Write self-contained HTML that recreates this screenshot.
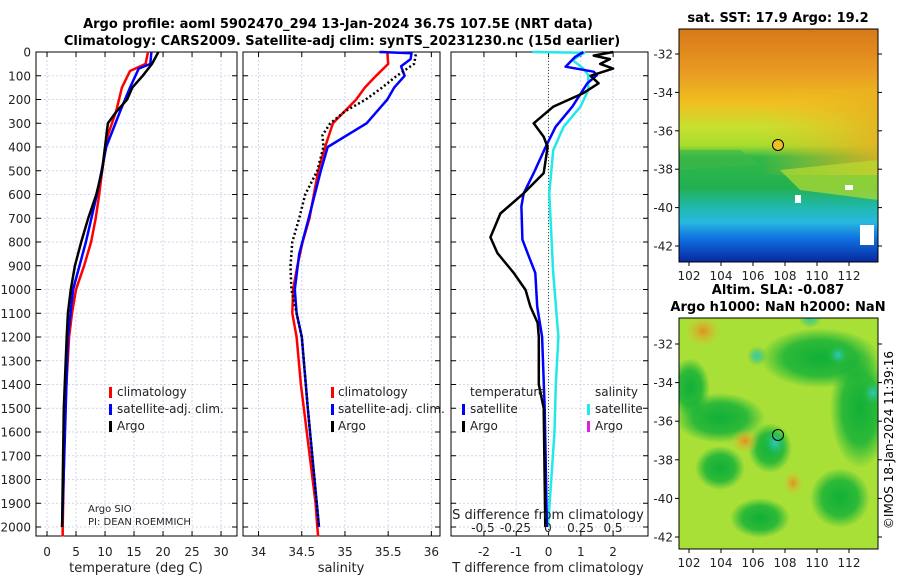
<!DOCTYPE html>
<html><head><meta charset="utf-8"><style>
body{margin:0;background:#fff;}
svg{font-family:"DejaVu Sans","Liberation Sans",sans-serif;}
</style></head><body>
<svg id="c" width="900" height="580" viewBox="0 0 900 580" xmlns="http://www.w3.org/2000/svg">
<defs>
<linearGradient id="sstg" x1="0" y1="0" x2="0" y2="1">
<stop offset="0" stop-color="#d8781a"/><stop offset="0.18" stop-color="#e89a22"/>
<stop offset="0.32" stop-color="#f0c020"/><stop offset="0.42" stop-color="#c8e030"/>
<stop offset="0.5" stop-color="#a8dc30"/><stop offset="0.55" stop-color="#30b848"/>
<stop offset="0.68" stop-color="#22b050"/><stop offset="0.76" stop-color="#20b8a8"/>
<stop offset="0.83" stop-color="#28b8e0"/><stop offset="0.9" stop-color="#1070e0"/>
<stop offset="1" stop-color="#0828a0"/></linearGradient>
<linearGradient id="sstr" x1="0" y1="0" x2="1" y2="0">
<stop offset="0" stop-color="#f0c020" stop-opacity="0"/><stop offset="1" stop-color="#e8b020" stop-opacity="0.85"/></linearGradient>
<radialGradient id="yb"><stop offset="0" stop-color="#e8e830"/><stop offset="0.6" stop-color="#c0e838" stop-opacity="0.8"/><stop offset="1" stop-color="#b0e838" stop-opacity="0"/></radialGradient>
<radialGradient id="ob"><stop offset="0" stop-color="#e09020"/><stop offset="1" stop-color="#e0c030" stop-opacity="0"/></radialGradient>
<radialGradient id="cb"><stop offset="0" stop-color="#30c8c0"/><stop offset="1" stop-color="#20c060" stop-opacity="0"/></radialGradient>
<radialGradient id="db"><stop offset="0" stop-color="#10b038"/><stop offset="0.6" stop-color="#10b038" stop-opacity="0.8"/><stop offset="1" stop-color="#10b038" stop-opacity="0"/></radialGradient>
<clipPath id="mclip"><rect x="679" y="318" width="199" height="231"/></clipPath>
</defs>
<g font-weight="bold" font-size="13" text-anchor="middle">
<text x="338" y="28">Argo profile: aoml 5902470_294 13-Jan-2024 36.7S  107.5E (NRT data)</text>
<text x="342" y="45">Climatology: CARS2009. Satellite-adj clim: synTS_20231230.nc (15d earlier)</text>
</g>
<g id="panels"></g>
<!-- maps -->
<g>
<text x="778" y="22" font-weight="bold" font-size="13" text-anchor="middle">sat. SST: 17.9 Argo: 19.2</text>
<rect x="679" y="29" width="199" height="233" fill="url(#sstg)"/>
<rect x="760" y="90" width="118" height="85" fill="url(#sstr)"/>
<path d="M780 170 L878 160 L878 200 L800 190Z" fill="#b8dc30" opacity="0.7"/>
<path d="M679 150 L740 150 L760 165 L679 170Z" fill="#40b848" opacity="0.6"/>
<rect x="860" y="225" width="14" height="20" fill="#fff"/>
<rect x="795" y="195" width="6" height="8" fill="#fff"/>
<rect x="845" y="185" width="8" height="5" fill="#fff"/>
<circle cx="778" cy="145" r="5.5" fill="#f0c020" stroke="#000" stroke-width="1"/>
<rect x="679" y="29" width="199" height="233" fill="none" stroke="#000" stroke-width="1"/>
</g>
<g>
<text x="778" y="294" font-weight="bold" font-size="13" text-anchor="middle">Altim. SLA: -0.087</text>
<text x="778" y="311" font-weight="bold" font-size="13" text-anchor="middle">Argo h1000: NaN h2000: NaN</text>
<rect x="679" y="318" width="199" height="231" fill="#a8e038"/>
<g clip-path="url(#mclip)">
<g transform="translate(0,28)">
<ellipse cx="720" cy="390" rx="45" ry="25" fill="url(#db)"/>
<ellipse cx="820" cy="330" rx="60" ry="30" fill="url(#db)"/>
<ellipse cx="860" cy="380" rx="30" ry="60" fill="url(#db)"/>
<ellipse cx="770" cy="420" rx="22" ry="25" fill="url(#db)"/>
<ellipse cx="720" cy="440" rx="25" ry="22" fill="url(#db)"/>
<ellipse cx="840" cy="470" rx="30" ry="30" fill="url(#db)"/>
<ellipse cx="760" cy="490" rx="30" ry="20" fill="url(#db)"/>
<ellipse cx="690" cy="360" rx="20" ry="30" fill="url(#db)"/>
<ellipse cx="703" cy="303" rx="18" ry="16" fill="url(#ob)"/>
<ellipse cx="745" cy="413" rx="14" ry="12" fill="url(#ob)"/>
<ellipse cx="793" cy="455" rx="10" ry="12" fill="url(#ob)"/>
<ellipse cx="775" cy="415" rx="12" ry="14" fill="url(#cb)"/>
<ellipse cx="838" cy="327" rx="10" ry="10" fill="url(#cb)"/>
<ellipse cx="873" cy="365" rx="10" ry="12" fill="url(#cb)"/>
<ellipse cx="757" cy="328" rx="10" ry="10" fill="url(#cb)"/>
<ellipse cx="810" cy="290" rx="12" ry="10" fill="url(#cb)"/>
</g></g>
<circle cx="778" cy="435" r="5.5" fill="none" stroke="#000" stroke-width="1"/>
<rect x="679" y="318" width="199" height="231" fill="none" stroke="#000" stroke-width="1"/>
</g>
<g id="mapaxes" font-size="12" fill="#222"></g>
<text transform="translate(893,440) rotate(-90)" font-size="12" text-anchor="middle">©IMOS 18-Jan-2024 11:39:16</text>
</svg>
<script>
// ---- data ----
const depthTicks=[0,100,200,300,400,500,600,700,800,900,1000,1100,1200,1300,1400,1500,1600,1700,1800,1900,2000];
const tTicks=[0,5,10,15,20,25,30];
const sTicks=[34,34.5,35,35.5,36];
const dTTicks=[-2,-1,0,1,2];
const dSTicks=[-0.5,-0.25,0,0.25,0.5];
const tArgoDepth=[0,50,100,150,200,250,300,400,500,600,700,800,900,1000,1100,1200,1500,2000];
const tArgo=[19.2,18.1,16.5,14.7,13.8,12.0,10.5,10.0,9.5,8.5,7.1,5.9,4.8,4.1,3.6,3.4,2.9,2.6];
const tClimDepth=[0,50,80,150,250,350,500,600,700,800,900,1000,1100,1200,1500,2000,2040];
const tClim=[17.4,17.0,14.3,12.9,11.9,10.5,9.5,9.0,8.4,7.6,6.4,5.0,4.3,3.8,3.1,2.7,2.7];
const tSatDepth=[0,50,70,150,250,400,600,800,1000,1200,2000];
const tSat=[18.0,17.8,15.8,14.3,12.6,10.2,8.6,6.7,4.5,3.6,2.6];
const sClimDepth=[0,50,100,150,200,300,400,500,700,800,900,1000,1100,1200,1400,1900,2000,2040];
const sClim=[35.49,35.5,35.36,35.23,35.13,34.86,34.77,34.69,34.59,34.51,34.45,34.40,34.39,34.44,34.49,34.66,34.68,34.69];
const sSatDepth=[0,5,30,60,100,150,200,300,400,500,700,850,1000,1100,1200,1500,2000];
const sSat=[35.4,35.77,35.76,35.65,35.69,35.57,35.49,35.25,34.8,34.72,34.58,34.47,34.42,34.44,34.5,34.57,34.7];
const sArgoDepth=[10,50,100,150,200,250,300,350,400,500,600,700,800,900,1000,1200,1500,2000];
const sArgo=[35.82,35.8,35.6,35.43,35.24,35.0,34.83,34.74,34.75,34.68,34.54,34.47,34.39,34.37,34.38,34.5,34.57,34.7];
const dTArgoDepth=[0,15,30,50,70,100,132,173,230,300,357,400,510,595,680,780,847,930,1002,1072,1140,1200,1400,1500,2000];
const dTArgo=[2.0,1.4,1.9,1.6,2.0,1.3,1.55,1.08,0.15,-0.46,-0.15,-0.03,-0.15,-0.77,-1.49,-1.8,-1.58,-1.08,-0.71,-0.56,-0.34,-0.3,-0.3,-0.15,-0.1];
const dTSatDepth=[0,20,62,83,97,132,230,315,400,510,595,650,790,860,930,1072,1200,1500,2000];
const dTSat=[1.08,0.83,0.53,1.4,1.5,1.2,0.74,0.22,-0.09,-0.46,-0.77,-0.84,-0.81,-0.61,-0.41,-0.35,-0.2,-0.12,-0.05];
const dSSatDepth=[0,3,34,69,97,160,230,315,414,595,930,1200,1400,1600,2000];
const dSSat=[-0.12,0.28,0.19,0.27,0.31,0.31,0.25,0.12,0.04,0.01,0.04,0.08,0.06,0.05,0.0];
const lonTicks=[102,104,106,108,110,112];
const latTicks=[-32,-34,-36,-38,-40,-42];

const NS='http://www.w3.org/2000/svg';
const root=document.getElementById('panels');
function mk(tag,attrs,parent){const e=document.createElementNS(NS,tag);for(const k in attrs)e.setAttribute(k,attrs[k]);(parent||root).appendChild(e);return e;}
const Y0=52,Y1=536;
function yOf(d){return Y0+d*0.2375;}
function panel(name,x0,x1,vmin,vmax,ticks,showY){
  const g=mk('g',{});
  
  
  const xs=v=>x0+(v-vmin)/(vmax-vmin)*(x1-x0);
  ticks.forEach(t=>{const x=xs(t);mk('line',{x1:x,x2:x,y1:Y0,y2:Y1,stroke:'#c9c9ea','stroke-dasharray':'2,2','stroke-width':0.8},g);
    mk('line',{x1:x,x2:x,y1:Y1,y2:Y1-5,stroke:'#000'},g);mk('line',{x1:x,x2:x,y1:Y0,y2:Y0+5,stroke:'#000'},g);});
  depthTicks.forEach(d=>{const y=yOf(d);mk('line',{x1:x0,x2:x1,y1:y,y2:y,stroke:'#c9c9ea','stroke-dasharray':'2,2','stroke-width':0.8},g);
    mk('line',{x1:x0,x2:x0+5,y1:y,y2:y,stroke:'#000'},g);mk('line',{x1:x1-5,x2:x1,y1:y,y2:y,stroke:'#000'},g);
    if(showY){const t=mk('text',{x:x0-5,y:y+4.5,'font-size':12,'text-anchor':'end',fill:'#222'},g);t.textContent=d;
      
      }});
  mk('rect',{x:x0,y:Y0,width:x1-x0,height:Y1-Y0,fill:'none',stroke:'#000','stroke-width':1},g);
  return {g,xs};
}
function series(p,name,depths,vals,color,w,dash,xs){
  const f=xs||p.xs;
  const pts=depths.map((d,i)=>f(vals[i]).toFixed(1)+','+yOf(d).toFixed(1)).join(' ');
  const l=mk('polyline',{points:pts,fill:'none',stroke:color,'stroke-width':w,'stroke-linejoin':'round'},p.g);
  if(dash)l.setAttribute('stroke-dasharray',dash);
  
  
}
function tickLabels(p,ticks,y,fmt){ticks.forEach(t=>{const e=mk('text',{x:p.xs(t),y:y,'font-size':12,'text-anchor':'middle',fill:'#222'},p.g);e.textContent=fmt?fmt(t):t;
  
  });}
function txt(p,x,y,s,name,size,anchor){const e=mk('text',{x:x,y:y,'font-size':size||12,'text-anchor':anchor||'start',fill:'#222'},p.g);e.textContent=s;
  
  return e;}
function legMark(p,x,y,color){const r=mk('rect',{x:x,y:y-9,width:3,height:11,fill:color},p.g);
  
  }

// panel 1 temperature
const p1=panel('temperature-panel',36,237,-1.9,32.75,tTicks,true);
series(p1,'temp-climatology-line',tClimDepth,tClim,'#ff0000',2.5);
series(p1,'temp-satellite-line',tSatDepth,tSat,'#0000ff',2.5);
series(p1,'temp-argo-line',tArgoDepth,tArgo,'#000',2.5);
tickLabels(p1,tTicks,556);
txt(p1,136,572,'temperature (deg C)','x-axis-title-temperature',13,'middle');
legMark(p1,109,396,'#f00');txt(p1,117,396,'climatology','legend-climatology');
legMark(p1,109,413,'#00f');txt(p1,117,413,'satellite-adj. clim.','legend-satellite');
legMark(p1,109,430,'#000');txt(p1,117,430,'Argo','legend-argo');
txt(p1,88,512,'Argo SIO','argo-institution',10);
txt(p1,88,525,'PI: DEAN ROEMMICH','argo-pi',10);

// panel 2 salinity
const p2=panel('salinity-panel',243,440,33.82,36.1,sTicks,false);
series(p2,'sal-climatology-line',sClimDepth,sClim,'#ff0000',2.5);
series(p2,'sal-satellite-line',sSatDepth,sSat,'#0000ff',2.5);
series(p2,'sal-argo-line',sArgoDepth,sArgo,'#000',2.5,'2,2.5');
tickLabels(p2,sTicks,556);
txt(p2,341,572,'salinity','x-axis-title-salinity',13,'middle');
legMark(p2,331,396,'#f00');txt(p2,338,396,'climatology','legend-climatology');
legMark(p2,331,413,'#00f');txt(p2,338,413,'satellite-adj. clim.','legend-satellite');
legMark(p2,331,430,'#000');txt(p2,338,430,'Argo','legend-argo');

// panel 3 differences
const p3=panel('difference-panel',451,648,-3.02,3.08,dTTicks,false);
const sx=v=>548+v*130;
mk('line',{x1:p3.xs(0),x2:p3.xs(0),y1:Y0,y2:Y1,stroke:'#335533','stroke-dasharray':'1,2','stroke-width':1},p3.g);
series(p3,'ds-satellite-line',dSSatDepth,dSSat,'#22e8e8',2.5,null,sx);
series(p3,'dt-satellite-line',dTSatDepth,dTSat,'#0000ff',2.5);
series(p3,'dt-argo-line',dTArgoDepth,dTArgo,'#000',2.5);
tickLabels(p3,dTTicks,556);
dSTicks.forEach(t=>{const e=mk('text',{x:sx(t),y:532,'font-size':12,'text-anchor':'middle',fill:'#222'},p3.g);e.textContent=t;
  
  });
txt(p3,548,519,'S difference from climatology','s-axis-title',13,'middle');
txt(p3,548,572,'T difference from climatology','t-axis-title',13,'middle');
txt(p3,470,396,'temperature','legend-temperature-header');
txt(p3,595,396,'salinity','legend-salinity-header');
legMark(p3,462,413,'#00f');txt(p3,470,413,'satellite','legend-t-satellite');
legMark(p3,462,430,'#000');txt(p3,470,430,'Argo','legend-t-argo');
legMark(p3,587,413,'#22e8e8');txt(p3,595,413,'satellite','legend-s-satellite');
legMark(p3,587,430,'#e020e0');txt(p3,595,430,'Argo','legend-s-argo');

// map axes
const ma=document.getElementById('mapaxes');
function mapAxes(y0,y1,latY0,latPx,labY){
  lonTicks.forEach(l=>{const x=689+(l-102)*16;
    mk('line',{x1:x,x2:x,y1:y1,y2:y1+4,stroke:'#000'},ma);
    const t=mk('text',{x:x,y:labY,'text-anchor':'middle'},ma);t.textContent=l;
    
    });
  latTicks.forEach(l=>{const y=latY0+(-32-l)*latPx;
    mk('line',{x1:675,x2:679,y1:y,y2:y,stroke:'#000'},ma);
    mk('line',{x1:878,x2:882,y1:y,y2:y,stroke:'#000'},ma);
    const t=mk('text',{x:673,y:y+4.5,'text-anchor':'end'},ma);t.textContent=l;
    
    });
}
mapAxes(29,262,54,19.2,280);
mapAxes(318,549,344,19.3,567);
</script>
</body></html>
